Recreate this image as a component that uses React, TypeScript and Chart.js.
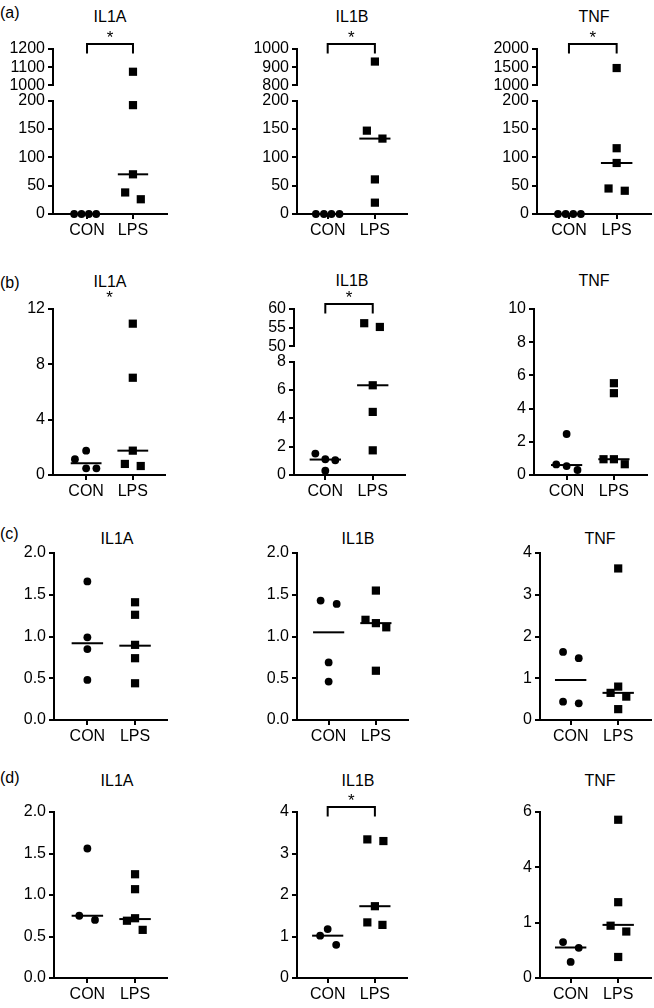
import React, { useEffect, useRef } from "react";
import { Chart, registerables } from "chart.js";
Chart.register(...registerables);

const FONT = '"Liberation Sans", Arial, Helvetica, sans-serif';
const GROUPS = ["CON", "LPS"];

// ---------- (a) ----------
const a_IL1A_CON = [0, 0, 0, 0];
const a_IL1A_CON_dx = [-0.28, -0.12, 0.04, 0.2];
const a_IL1A_LPS = [1075, 192, 70, 38, 26];
const a_IL1A_LPS_dx = [0, 0, 0, -0.17, 0.17];
const a_IL1A_MED = [0, 70];
const a_IL1B_CON = [0, 0, 0, 0];
const a_IL1B_CON_dx = [-0.25, -0.08, 0.08, 0.25];
const a_IL1B_LPS = [931, 147, 133, 61, 20];
const a_IL1B_LPS_dx = [0, -0.17, 0.16, 0, 0];
const a_IL1B_MED = [0, 133];
const a_TNF_CON = [0, 0, 0, 0];
const a_TNF_CON_dx = [-0.23, -0.07, 0.09, 0.25];
const a_TNF_LPS = [1477, 116, 90, 45, 41];
const a_TNF_LPS_dx = [0, 0, 0, -0.17, 0.17];
const a_TNF_MED = [0, 90];

// ---------- (b) ----------
const b_IL1A_CON = [1.76, 1.14, 0.48, 0.48];
const b_IL1A_CON_dx = [0, -0.24, 0, 0.22];
const b_IL1A_LPS = [10.94, 7.03, 1.76, 0.8, 0.65];
const b_IL1A_LPS_dx = [0, 0, 0, -0.17, 0.17];
const b_IL1A_MED = [0.85, 1.76];
const b_IL1B_CON = [1.51, 1.11, 1.04, 0.3];
const b_IL1B_CON_dx = [-0.21, 0, 0.21, 0];
const b_IL1B_LPS = [56.2, 55.2, 6.33, 4.45, 1.74];
const b_IL1B_LPS_dx = [-0.18, 0.15, 0, 0, 0];
const b_IL1B_MED = [1.09, 6.33];
const b_TNF_CON = [2.47, 0.64, 0.54, 0.3];
const b_TNF_CON_dx = [0, -0.22, 0, 0.23];
const b_TNF_LPS = [5.53, 4.93, 0.95, 0.95, 0.65];
const b_TNF_LPS_dx = [0, 0, -0.22, 0, 0.23];
const b_TNF_MED = [0.6, 0.95];

// ---------- (c) ----------
const c_IL1A_CON = [1.66, 0.99, 0.85, 0.48];
const c_IL1A_CON_dx = [0, 0, 0, 0];
const c_IL1A_LPS = [1.41, 1.26, 0.9, 0.74, 0.44];
const c_IL1A_LPS_dx = [0, 0, 0, 0, 0];
const c_IL1A_MED = [0.92, 0.89];
const c_IL1B_CON = [1.43, 1.39, 0.69, 0.46];
const c_IL1B_CON_dx = [-0.17, 0.17, 0, 0];
const c_IL1B_LPS = [1.55, 1.2, 1.16, 1.11, 0.59];
const c_IL1B_LPS_dx = [0, -0.22, 0, 0.22, 0];
const c_IL1B_MED = [1.05, 1.16];
const c_TNF_CON = [1.63, 1.48, 0.44, 0.4];
const c_TNF_CON_dx = [-0.16, 0.17, -0.16, 0.17];
const c_TNF_LPS = [3.63, 0.8, 0.65, 0.56, 0.26];
const c_TNF_LPS_dx = [0, 0, -0.16, 0.17, 0];
const c_TNF_MED = [0.96, 0.65];

// ---------- (d) ----------
const d_IL1A_CON = [1.56, 0.75, 0.7];
const d_IL1A_CON_dx = [0, -0.17, 0.16];
const d_IL1A_LPS = [1.25, 1.07, 0.72, 0.69, 0.58];
const d_IL1A_LPS_dx = [0, 0, 0, -0.17, 0.16];
const d_IL1A_MED = [0.75, 0.71];
const d_IL1B_CON = [1.18, 1.02, 0.8];
const d_IL1B_CON_dx = [0, -0.16, 0.18];
const d_IL1B_LPS = [3.34, 3.3, 1.73, 1.34, 1.28];
const d_IL1B_LPS_dx = [-0.16, 0.18, 0, -0.16, 0.16];
const d_IL1B_MED = [1.02, 1.73];
const d_TNF_CON = [1.3, 1.09, 0.58];
const d_TNF_CON_dx = [-0.16, 0.17, 0];
const d_TNF_LPS = [5.72, 2.74, 1.89, 1.68, 0.76];
const d_TNF_LPS_dx = [0, 0, -0.16, 0.17, 0];
const d_TNF_MED = [1.1, 1.92];

// ---------- tick values / labels ----------
const T_A_IL1A_TOP = [1000, 1100, 1200];
const T_A_IL1B_TOP = [800, 900, 1000];
const T_A_TNF_TOP = [1000, 1500, 2000];
const T_A_BOTTOM = [0, 50, 100, 150, 200];
const T_B_IL1A = [0, 4, 8, 12];
const T_B_IL1B_TOP = [50, 55, 60];
const T_B_IL1B_BOTTOM = [0, 2, 4, 6, 8];
const T_B_TNF = [0, 2, 4, 6, 8, 10];
const T_HALF = [0, 0.5, 1, 1.5, 2];
const L_HALF = ["0.0", "0.5", "1.0", "1.5", "2.0"];
const T_C_TNF = [0, 1, 2, 3, 4];
const T_D_IL1B = [0, 1, 2, 3, 4];
const T_D_TNF = [0, 2, 4, 6];
const L_D_TNF = ["0", "1", "4", "6"];

const LETTERS = ["(a)", "(b)", "(c)", "(d)"];

type Seg = { min: number; max: number; ticks: number[]; labels?: string[]; top: number; bottom: number };
type Panel = {
  title: string; tx: number; ty: number;
  axisX: number; xEnd: number; xMin: number; xMax: number;
  con: number[]; conDx: number[]; lps: number[]; lpsDx: number[]; med: number[];
  segs: Seg[]; sig: "bracket" | "star" | null;
};

const PANELS: Panel[] = [
  { title: "IL1A", tx: 110, ty: 17, axisX: 53, xEnd: 167, xMin: 0.26, xMax: 2.74,
    con: a_IL1A_CON, conDx: a_IL1A_CON_dx, lps: a_IL1A_LPS, lpsDx: a_IL1A_LPS_dx, med: a_IL1A_MED,
    segs: [{ min: 1000, max: 1200, ticks: T_A_IL1A_TOP, top: 49, bottom: 87 }, { min: 0, max: 200, ticks: T_A_BOTTOM, top: 99, bottom: 214 }], sig: "bracket" },
  { title: "IL1B", tx: 352, ty: 17, axisX: 297, xEnd: 407, xMin: 0.35, xMax: 2.68,
    con: a_IL1B_CON, conDx: a_IL1B_CON_dx, lps: a_IL1B_LPS, lpsDx: a_IL1B_LPS_dx, med: a_IL1B_MED,
    segs: [{ min: 800, max: 1000, ticks: T_A_IL1B_TOP, top: 49, bottom: 87 }, { min: 0, max: 200, ticks: T_A_BOTTOM, top: 99, bottom: 214 }], sig: "bracket" },
  { title: "TNF", tx: 594, ty: 17, axisX: 537, xEnd: 651, xMin: 0.33, xMax: 2.72,
    con: a_TNF_CON, conDx: a_TNF_CON_dx, lps: a_TNF_LPS, lpsDx: a_TNF_LPS_dx, med: a_TNF_MED,
    segs: [{ min: 1000, max: 2000, ticks: T_A_TNF_TOP, top: 49, bottom: 87 }, { min: 0, max: 200, ticks: T_A_BOTTOM, top: 99, bottom: 214 }], sig: "bracket" },

  { title: "IL1A", tx: 110, ty: 282, axisX: 53, xEnd: 165, xMin: 0.29, xMax: 2.69,
    con: b_IL1A_CON, conDx: b_IL1A_CON_dx, lps: b_IL1A_LPS, lpsDx: b_IL1A_LPS_dx, med: b_IL1A_MED,
    segs: [{ min: 0, max: 12, ticks: T_B_IL1A, top: 309, bottom: 475 }], sig: "star" },
  { title: "IL1B", tx: 352, ty: 281, axisX: 294, xEnd: 405, xMin: 0.34, xMax: 2.68,
    con: b_IL1B_CON, conDx: b_IL1B_CON_dx, lps: b_IL1B_LPS, lpsDx: b_IL1B_LPS_dx, med: b_IL1B_MED,
    segs: [{ min: 50, max: 60, ticks: T_B_IL1B_TOP, top: 309, bottom: 348 }, { min: 0, max: 8, ticks: T_B_IL1B_BOTTOM, top: 360, bottom: 475 }], sig: "bracket" },
  { title: "TNF", tx: 594, ty: 281, axisX: 534, xEnd: 647, xMin: 0.31, xMax: 2.7,
    con: b_TNF_CON, conDx: b_TNF_CON_dx, lps: b_TNF_LPS, lpsDx: b_TNF_LPS_dx, med: b_TNF_MED,
    segs: [{ min: 0, max: 10, ticks: T_B_TNF, top: 309, bottom: 475 }], sig: null },

  { title: "IL1A", tx: 117, ty: 539, axisX: 54, xEnd: 167, xMin: 0.3, xMax: 2.67,
    con: c_IL1A_CON, conDx: c_IL1A_CON_dx, lps: c_IL1A_LPS, lpsDx: c_IL1A_LPS_dx, med: c_IL1A_MED,
    segs: [{ min: 0, max: 2, ticks: T_HALF, labels: L_HALF, top: 553, bottom: 720 }], sig: null },
  { title: "IL1B", tx: 358, ty: 539, axisX: 297, xEnd: 408, xMin: 0.33, xMax: 2.68,
    con: c_IL1B_CON, conDx: c_IL1B_CON_dx, lps: c_IL1B_LPS, lpsDx: c_IL1B_LPS_dx, med: c_IL1B_MED,
    segs: [{ min: 0, max: 2, ticks: T_HALF, labels: L_HALF, top: 553, bottom: 720 }], sig: null },
  { title: "TNF", tx: 600, ty: 539, axisX: 540, xEnd: 651, xMin: 0.355, xMax: 2.69,
    con: c_TNF_CON, conDx: c_TNF_CON_dx, lps: c_TNF_LPS, lpsDx: c_TNF_LPS_dx, med: c_TNF_MED,
    segs: [{ min: 0, max: 4, ticks: T_C_TNF, top: 553, bottom: 720 }], sig: null },

  { title: "IL1A", tx: 117, ty: 781, axisX: 54, xEnd: 167, xMin: 0.3, xMax: 2.67,
    con: d_IL1A_CON, conDx: d_IL1A_CON_dx, lps: d_IL1A_LPS, lpsDx: d_IL1A_LPS_dx, med: d_IL1A_MED,
    segs: [{ min: 0, max: 2, ticks: T_HALF, labels: L_HALF, top: 812, bottom: 978 }], sig: null },
  { title: "IL1B", tx: 358, ty: 781, axisX: 297, xEnd: 407, xMin: 0.35, xMax: 2.68,
    con: d_IL1B_CON, conDx: d_IL1B_CON_dx, lps: d_IL1B_LPS, lpsDx: d_IL1B_LPS_dx, med: d_IL1B_MED,
    segs: [{ min: 0, max: 4, ticks: T_D_IL1B, top: 812, bottom: 978 }], sig: "bracket" },
  { title: "TNF", tx: 600, ty: 781, axisX: 540, xEnd: 651, xMin: 0.355, xMax: 2.69,
    con: d_TNF_CON, conDx: d_TNF_CON_dx, lps: d_TNF_LPS, lpsDx: d_TNF_LPS_dx, med: d_TNF_MED,
    segs: [{ min: 0, max: 6, ticks: T_D_TNF, labels: L_D_TNF, top: 812, bottom: 978 }], sig: null },
];

const LETTER_POS = [12.5, 283, 534, 778];

const YW = 58;
const XH = 34;
const PADR = 6;
const LW = 2;
const MED_HALF = 0.33;

function sigPlugin(kind: Panel["sig"]) {
  return {
    id: "sigMark",
    afterDraw(chart: any) {
      if (!kind) return;
      const ctx = chart.ctx;
      const xs = chart.scales.x;
      const top = chart.chartArea.top;
      const x1 = xs.getPixelForValue(1);
      const x2 = xs.getPixelForValue(2);
      ctx.save();
      ctx.strokeStyle = "#000";
      ctx.lineWidth = LW;
      if (kind === "bracket") {
        ctx.beginPath();
        ctx.moveTo(x1, top + 4.5);
        ctx.lineTo(x1, top - 5);
        ctx.lineTo(x2, top - 5);
        ctx.lineTo(x2, top + 4.5);
        ctx.stroke();
      }
      ctx.fillStyle = "#000";
      ctx.font = `17px ${FONT}`;
      ctx.textAlign = "center";
      ctx.textBaseline = "alphabetic";
      ctx.fillText("*", (x1 + x2) / 2, top - 6);
      ctx.restore();
    },
  };
}

function SegChart({ panel, seg, isTop, isBottom }: { panel: Panel; seg: Seg; isTop: boolean; isBottom: boolean }) {
  const ref = useRef<HTMLCanvasElement>(null);
  const padTop = isTop ? 26 : 11;
  const padBottom = isBottom ? 0 : 11;
  const w = YW + (panel.xEnd - panel.axisX) + PADR;
  const h = padTop + (seg.bottom - seg.top) + (isBottom ? XH : padBottom);
  const left = panel.axisX - YW;
  const top = seg.top - padTop;

  useEffect(() => {
    const inSeg = (v: number) => v >= seg.min && v <= seg.max;
    const conPts = panel.con.map((v, i) => ({ x: 1 + panel.conDx[i], y: v })).filter((p) => inSeg(p.y));
    const lpsPts = panel.lps.map((v, i) => ({ x: 2 + panel.lpsDx[i], y: v })).filter((p) => inSeg(p.y));
    const datasets: any[] = [];
    panel.med.forEach((m, i) => {
      if (!inSeg(m)) return;
      datasets.push({
        type: "line",
        data: [{ x: i + 1 - MED_HALF, y: m }, { x: i + 1 + MED_HALF, y: m }],
        borderColor: "#000",
        borderWidth: 2,
        pointRadius: 0,
        showLine: true,
        clip: false,
      });
    });
    datasets.push({
      data: conPts,
      pointStyle: "circle",
      pointRadius: 3.9,
      backgroundColor: "#000",
      borderColor: "#000",
      borderWidth: 0,
      clip: false,
    });
    datasets.push({
      data: lpsPts,
      pointStyle: "rect",
      pointRadius: 5.8,
      backgroundColor: "#000",
      borderColor: "#000",
      borderWidth: 0,
      clip: false,
    });
    const labels = seg.labels || seg.ticks.map((v) => String(v));
    const chart = new Chart(ref.current as HTMLCanvasElement, {
      type: "scatter",
      data: { datasets },
      plugins: [sigPlugin(isTop ? panel.sig : null)],
      options: {
        responsive: false,
        animation: false,
        devicePixelRatio: 1,
        layout: { padding: { left: 0, right: PADR, top: padTop, bottom: padBottom } },
        plugins: { legend: { display: false }, tooltip: { enabled: false } },
        scales: {
          x: {
            type: "linear",
            display: isBottom,
            min: panel.xMin,
            max: panel.xMax,
            afterBuildTicks: (s: any) => {
              s.ticks = [{ value: 1 }, { value: 2 }];
            },
            afterFit: (s: any) => {
              s.height = isBottom ? XH : 0;
            },
            ticks: {
              autoSkip: false,
              maxRotation: 0,
              color: "#000",
              padding: 2,
              font: { family: FONT, size: 16 },
              callback: (_v: any, i: number) => GROUPS[i],
            },
            grid: { display: true, drawOnChartArea: false, drawTicks: true, tickLength: 5, color: "#000", lineWidth: LW },
            border: { display: true, color: "#000", width: LW },
          },
          y: {
            type: "linear",
            min: seg.min,
            max: seg.max,
            afterBuildTicks: (s: any) => {
              s.ticks = seg.ticks.map((v) => ({ value: v }));
            },
            afterFit: (s: any) => {
              s.width = YW;
            },
            ticks: {
              autoSkip: false,
              color: "#000",
              padding: 3,
              font: { family: FONT, size: 16 },
              callback: (_v: any, i: number) => labels[i],
            },
            grid: { display: true, drawOnChartArea: false, drawTicks: true, tickLength: 5, color: "#000", lineWidth: LW },
            border: { display: true, color: "#000", width: LW },
          },
        },
      } as any,
    });
    return () => chart.destroy();
  }, []);

  return (
    <canvas
      ref={ref}
      width={w}
      height={h}
      style={{ position: "absolute", left, top, width: w, height: h }}
    />
  );
}

const textStyle: React.CSSProperties = {
  position: "absolute",
  fontFamily: FONT,
  fontSize: 16,
  lineHeight: "16px",
  color: "#000",
  whiteSpace: "nowrap",
};

export default function App() {
  return (
    <div style={{ position: "absolute", left: 0, top: 0, width: 654, height: 1008, background: "#fff", overflow: "hidden" }}>
      {LETTERS.map((l, i) => (
        <div key={l} style={{ ...textStyle, left: 0, top: LETTER_POS[i] - 8 }}>{l}</div>
      ))}
      {PANELS.map((p, pi) => (
        <div key={"t" + pi} style={{ ...textStyle, left: p.tx, top: p.ty - 8, transform: "translateX(-50%)" }}>{p.title}</div>
      ))}
      {PANELS.map((p, pi) =>
        p.segs.map((s, si) => (
          <SegChart key={pi + "-" + si} panel={p} seg={s} isTop={si === 0} isBottom={si === p.segs.length - 1} />
        ))
      )}
    </div>
  );
}
